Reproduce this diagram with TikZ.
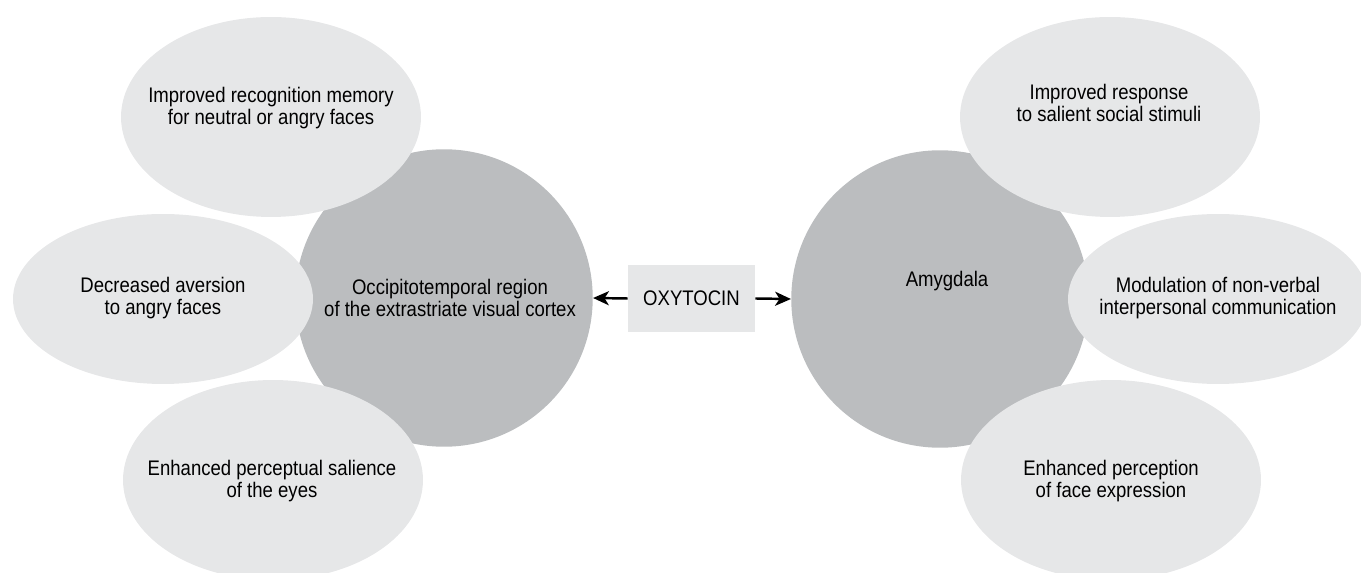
\documentclass[tikz,border=0pt]{standalone}
\usepackage{fontspec}
\setmainfont[FakeStretch=0.88]{Liberation Sans}
\usetikzlibrary{arrows.meta,shapes.geometric}
\definecolor{hubgray}{HTML}{BBBDBF}
\definecolor{bubblegray}{HTML}{E6E7E8}

\begin{document}
\begin{tikzpicture}[x=0.02cm, y=-0.02cm, line join=round,
  hub/.style={circle, fill=hubgray, draw=none, inner sep=0pt, minimum size=5.95cm},
  bubble/.style={ellipse, fill=bubblegray, draw=none, inner sep=0pt, minimum width=6cm, minimum height=4cm},
  txt/.style={align=center, font=\fontsize{12}{13}\selectfont, text=black, inner sep=0pt},
  arr/.style={line width=1.4pt, -{Stealth[length=9pt, width=8pt, inset=2.5pt]}}]
  % ========================================================
  % 0. FRAME
  % ========================================================
  \useasboundingbox (0,0) rectangle (1361,573);
  \clip (0,0) rectangle (1361,573);

  % ========================================================
  % 1. BRAIN REGIONS (dark circles)
  % ========================================================
  \node[hub] (occ) at (444,298) {};
  \node[hub] (amy) at (940,299) {};

  % ========================================================
  % 2. EFFECT BUBBLES (light ellipses)
  % ========================================================
  \node[bubble] (recog) at (271,117) {};
  \node[bubble, minimum height=3.4cm] (aver) at (163,299) {};
  \node[bubble] (sal) at (273,480) {};

  \node[bubble] (resp) at (1110,117) {};
  \node[bubble, minimum height=3.4cm] (modu) at (1218,299) {};
  \node[bubble] (expr) at (1111,480) {};

  % ========================================================
  % 3. OXYTOCIN BOX AND ARROWS
  % ========================================================
  \node[fill=bubblegray, minimum width=2.54cm, minimum height=1.34cm, inner sep=0pt,
        font=\fontsize{12}{13}\selectfont] (oxy) at (691.5,298.5) {OXYTOCIN};
  \draw[arr] (oxy.west) -- (occ.east);
  \draw[arr] (oxy.east) -- (amy.west);

  % ========================================================
  % 4. LABELS
  % ========================================================
  \node[txt] (recogtxt) at (271,108) {Improved recognition memory\\for neutral or angry faces};
  \node[txt] (avertxt) at (163,298) {Decreased aversion\\to angry faces};
  \node[txt] (saltxt) at (272,481) {Enhanced perceptual salience\\of the eyes};
  \node[txt] (occtxt) at (450,298) {Occipitotemporal region\\of the extrastriate visual cortex};

  \node[txt] (amytxt) at (947,281) {Amygdala};
  \node[txt] (resptxt) at (1109,103) {Improved response\\to salient social stimuli};
  \node[txt] (modutxt) at (1218,298) {Modulation of non-verbal\\interpersonal communication};
  \node[txt] (exprtxt) at (1111,481) {Enhanced perception\\of face expression};

\end{tikzpicture}
\end{document}
